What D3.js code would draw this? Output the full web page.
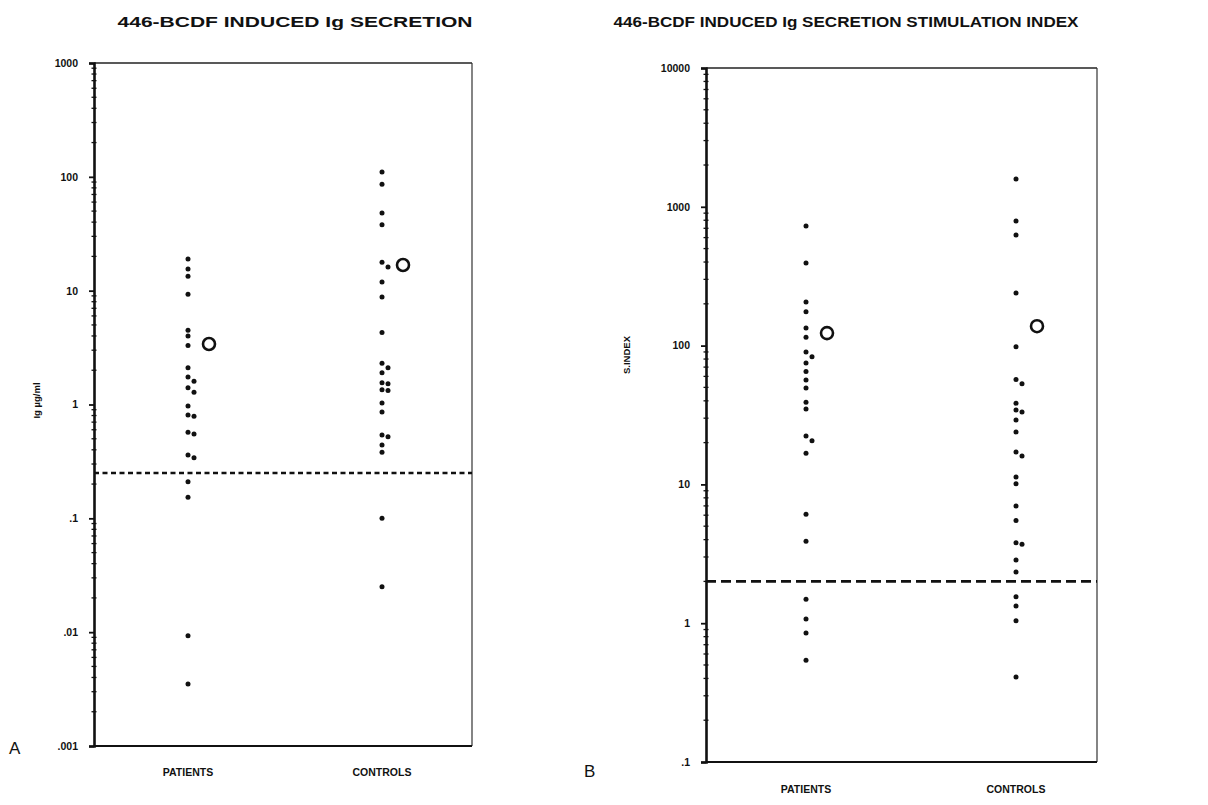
<!DOCTYPE html>
<html>
<head>
<meta charset="utf-8">
<script src="https://cdn.jsdelivr.net/npm/d3@7"></script>
<style>
  html, body { margin: 0; padding: 0; background: #fff; }
  svg { display: block; }
  text { font-family: "Liberation Sans", Arial, sans-serif; fill: #111; }
</style>
</head>
<body>
<svg id="chart" width="1208" height="805"></svg>
<script>
// ---- data ----
const categories = ["PATIENTS", "CONTROLS"];

// Panel A: Ig secretion (µg/ml)
const igPatients = [19, 15.5, 13.4, 9.3, 4.5, 4.0, 3.3, 2.1, 1.74, 1.6, 1.4, 1.28, 0.97,
  0.81, 0.79, 0.57, 0.55, 0.36, 0.34, 0.21, 0.153, 0.0093, 0.0035];
const igControls = [110, 86, 48, 38, 17.8, 16.1, 11.9, 8.8, 4.3, 2.3, 2.1, 1.9, 1.55, 1.52,
  1.35, 1.33, 1.03, 0.86, 0.54, 0.52, 0.44, 0.38, 0.10, 0.025];
const igMeans = [3.4, 16.8];
const igCutoff = 0.25;
const igTicks = [1000, 100, 10, 1, 0.1, 0.01, 0.001];
const igTickLabels = ["1000", "100", "10", "1", ".1", ".01", ".001"];

// Panel B: stimulation index
const siPatients = [728, 394, 206, 175, 134, 115, 90, 83, 75, 65, 56.5, 49.5, 39, 35,
  22.3, 20.6, 16.8, 6.1, 3.9, 1.49, 1.07, 0.85, 0.54];
const siControls = [1585, 790, 627, 239, 98, 57, 53, 38.5, 34.3, 33.2, 29.1, 23.9, 17.1, 16.0,
  11.3, 10.1, 7.0, 5.5, 3.8, 3.7, 2.85, 2.34, 1.55, 1.33, 1.04, 0.41];
const siMeans = [123, 138];
const siCutoff = 2;
const siTicks = [10000, 1000, 100, 10, 1, 0.1];
const siTickLabels = ["10000", "1000", "100", "10", "1", ".1"];

const svg = d3.select("#chart");

function drawPanel(cfg) {
  const g = svg.append("g");
  const { left, right, top, bottom } = cfg.box;

  const y = d3.scaleLog().domain(cfg.domain).range([bottom, top]);
  const x = d3.scalePoint().domain(categories).range([left + cfg.catOffsets[0], left + cfg.catOffsets[1]]);

  // frame
  g.append("line").attr("x1", left).attr("x2", right).attr("y1", top).attr("y2", top)
    .attr("stroke", "#222").attr("stroke-width", 1.6);
  g.append("line").attr("x1", right).attr("x2", right).attr("y1", top).attr("y2", bottom)
    .attr("stroke", "#333").attr("stroke-width", 1.2);
  g.append("line").attr("x1", left).attr("x2", right).attr("y1", bottom).attr("y2", bottom)
    .attr("stroke", "#111").attr("stroke-width", 2.2);

  // minor log ticks on the value axis
  const [lo, hi] = cfg.domain;
  const minor = [];
  for (let e = Math.round(Math.log10(lo)); e < Math.round(Math.log10(hi)); e++) {
    for (let k = 2; k <= 9; k++) minor.push(k * Math.pow(10, e));
  }
  g.append("g").selectAll("line").data(minor).join("line")
    .attr("x1", left - 2.5).attr("x2", left + 2.5)
    .attr("y1", d => y(d)).attr("y2", d => y(d))
    .attr("stroke", "#111").attr("stroke-width", 1.3);

  // value axis with decade labels
  const axis = d3.axisLeft(y).tickValues(cfg.ticks)
    .tickFormat((d, i) => cfg.tickLabels[i]).tickSize(5).tickPadding(11);
  const ax = g.append("g").attr("transform", `translate(${left},0)`).call(axis);
  ax.select(".domain").attr("stroke", "#111").attr("stroke-width", 2.6);
  ax.selectAll(".tick line").attr("stroke", "#111").attr("stroke-width", 1.8);
  ax.selectAll(".tick text").attr("font-size", 10.5).attr("font-weight", "bold")
    .attr("fill", "#111").style("font-family", "'Liberation Sans', Arial, sans-serif");

  // cutoff line
  g.append("line").attr("x1", left).attr("x2", right)
    .attr("y1", y(cfg.cutoff)).attr("y2", y(cfg.cutoff))
    .attr("stroke", "#111").attr("stroke-width", 2.6)
    .attr("stroke-dasharray", cfg.dash);

  // individual values, nudged sideways when they overlap
  cfg.series.forEach((vals, ci) => {
    const cx = x(categories[ci]);
    const placed = [];
    const pts = vals.map(v => ({ v, py: y(v) })).sort((a, b) => a.py - b.py);
    pts.forEach(p => {
      for (const dx of [0, 6, -6, 12, -12]) {
        const px = cx + dx;
        if (placed.every(q => Math.hypot(q.px - px, q.py - p.py) >= 5.2)) {
          p.px = px; placed.push(p); break;
        }
      }
      if (p.px === undefined) { p.px = cx; placed.push(p); }
    });
    g.append("g").selectAll("circle").data(placed).join("circle")
      .attr("cx", d => d.px).attr("cy", d => d.py).attr("r", 2.5).attr("fill", "#111");
    // group mean
    g.append("circle").attr("cx", cx + 21).attr("cy", y(cfg.means[ci])).attr("r", 6)
      .attr("fill", "none").attr("stroke", "#111").attr("stroke-width", 2.6);
  });

  // category labels
  g.append("g").selectAll("text").data(categories).join("text")
    .attr("x", d => x(d)).attr("y", cfg.catLabelY)
    .attr("text-anchor", "middle").attr("font-size", 10.5).attr("font-weight", "bold")
    .text(d => d);

  // axis title
  g.append("text")
    .attr("transform", `translate(${cfg.yTitleX},${(top + bottom) / 2 + cfg.yTitleShift}) rotate(-90)`)
    .attr("text-anchor", "middle").attr("font-size", 9.5).attr("font-weight", "bold")
    .attr("fill", "#111")
    .text(cfg.yTitle);

  // chart title
  g.append("text").attr("x", cfg.titleX).attr("y", 27)
    .attr("text-anchor", "middle").attr("font-size", 15).attr("font-weight", "bold")
    .attr("textLength", cfg.titleWidth).attr("lengthAdjust", "spacingAndGlyphs")
    .text(cfg.title);

  // panel letter
  g.append("text").attr("x", cfg.letterPos[0]).attr("y", cfg.letterPos[1])
    .attr("font-size", 17).text(cfg.letter);
}

drawPanel({
  box: { left: 94, right: 472, top: 63, bottom: 746 },
  domain: [0.001, 1000],
  ticks: igTicks, tickLabels: igTickLabels,
  catOffsets: [94, 288],
  series: [igPatients, igControls],
  means: igMeans,
  cutoff: igCutoff, dash: "5,3.5",
  catLabelY: 776,
  yTitle: "Ig  µg/ml", yTitleX: 40, yTitleShift: -4,
  title: "446-BCDF INDUCED Ig SECRETION", titleX: 295, titleWidth: 355,
  letter: "A", letterPos: [9, 754]
});

drawPanel({
  box: { left: 706, right: 1097, top: 68, bottom: 762 },
  domain: [0.1, 10000],
  ticks: siTicks, tickLabels: siTickLabels,
  catOffsets: [100, 310],
  series: [siPatients, siControls],
  means: siMeans,
  cutoff: siCutoff, dash: "10,5",
  catLabelY: 793,
  yTitle: "S.INDEX", yTitleX: 630, yTitleShift: -60,
  title: "446-BCDF INDUCED Ig SECRETION STIMULATION INDEX", titleX: 846, titleWidth: 465,
  letter: "B", letterPos: [584, 777]
});
</script>
</body>
</html>
